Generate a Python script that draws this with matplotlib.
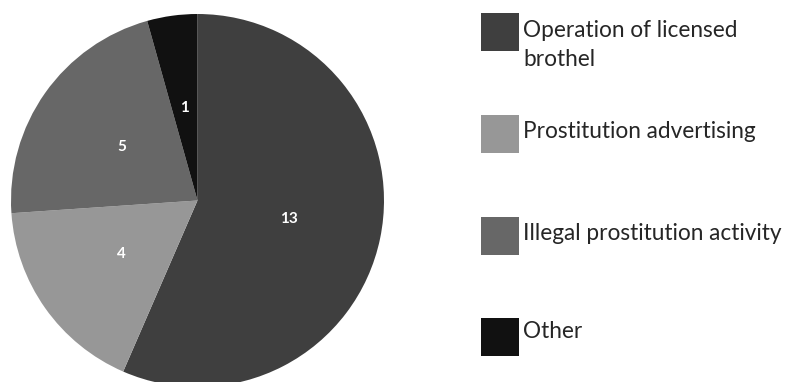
import matplotlib
matplotlib.use('agg')
import matplotlib.pyplot as plt
from matplotlib.patches import Rectangle

# offence counts by category
categories = ['Operation of licensed\nbrothel', 'Prostitution advertising',
              'Illegal prostitution activity', 'Other']
counts = [13, 4, 5, 1]
colors = ['#3f3f3f', '#979797', '#676767', '#111111']

plt.rcParams['font.family'] = ['Lato', 'DejaVu Sans']

W, H = 786, 382
fig = plt.figure(figsize=(W / 100, H / 100), dpi=100)

# pie: centre (197.5, 200.5) px from top-left, radius 186.5 px
cx, cy, r = 197.5, 200.5, 186.5
ax = fig.add_axes([(cx - r) / W, (H - cy - r) / H, 2 * r / W, 2 * r / H])
wedges, texts, autotexts = ax.pie(
    counts, colors=colors, startangle=90, counterclock=False, radius=1,
    autopct=lambda p: '%d' % round(p * sum(counts) / 100), pctdistance=0.5,
    wedgeprops={'linewidth': 0})
for t in autotexts:
    t.set_color('white')
    t.set_fontweight('bold')
    t.set_fontsize(11)
ax.set_xlim(-1, 1)
ax.set_ylim(-1, 1)
ax.set_aspect('equal')
ax.axis('off')

# legend drawn by hand: square swatches with labels on the right
box_tops = [13, 115, 217, 318]
text_y = [45, 132, 234, 331]
for cat, col, top, ty in zip(categories, colors, box_tops, text_y):
    fig.add_artist(Rectangle((481 / W, 1 - (top + 38) / H), 38 / W, 38 / H,
                             transform=fig.transFigure, facecolor=col,
                             edgecolor='none'))
    fig.text(523 / W, 1 - ty / H, cat, fontsize=16.3, color='#262626',
             va='center', ha='left', linespacing=1.45)

fig.savefig('out.png', dpi=100)
